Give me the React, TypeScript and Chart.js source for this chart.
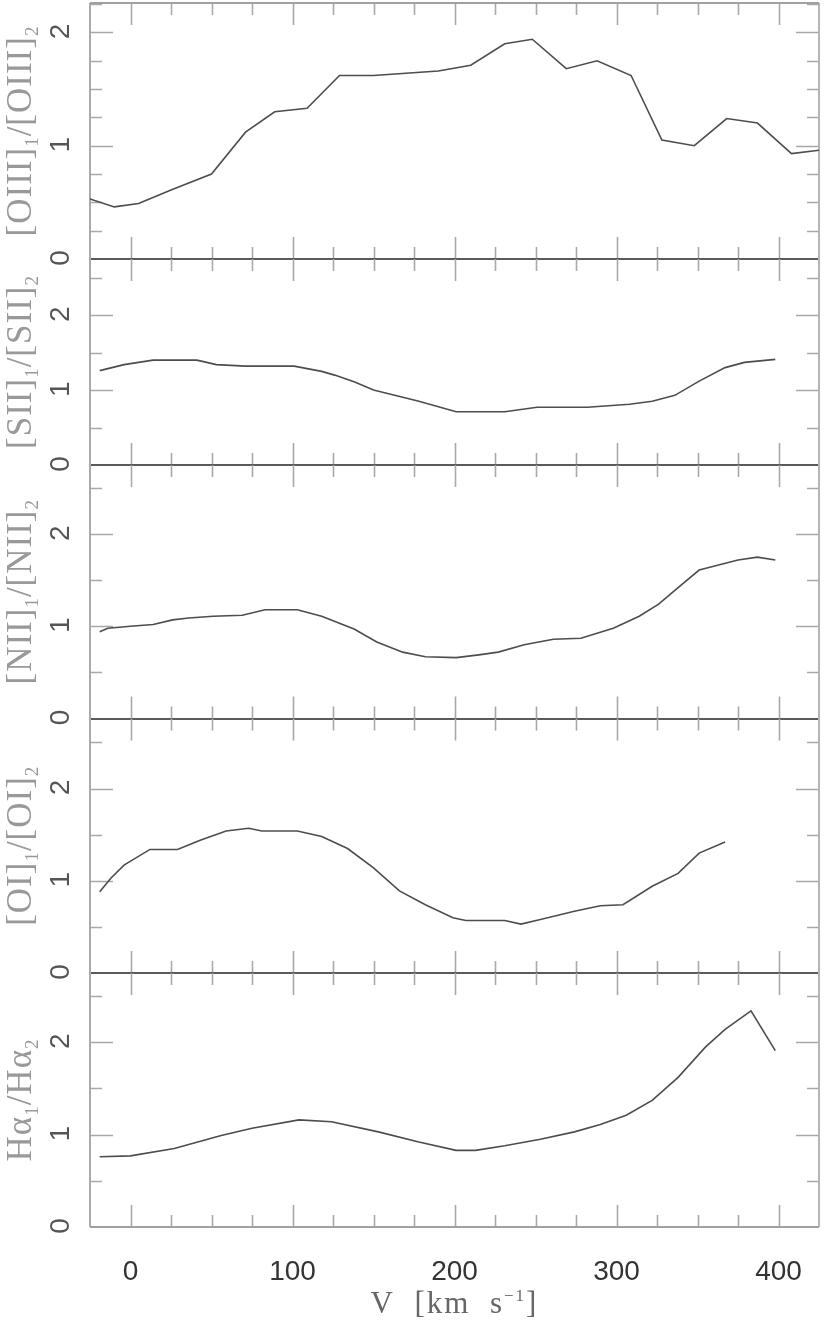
import React, { useEffect, useRef } from 'react';
import { Chart, registerables } from 'chart.js';

Chart.register(...registerables);

// ---- data (velocity in km/s, line ratios) ----
const oiiiV = [-25, -10, 5, 25, 50, 71, 89, 109, 129, 150, 170, 190, 210, 231, 248, 269, 288, 309, 328, 348, 368, 387, 408, 425];
const oiiiR = [0.53, 0.46, 0.49, 0.61, 0.75, 1.12, 1.3, 1.33, 1.62, 1.62, 1.64, 1.66, 1.71, 1.9, 1.94, 1.68, 1.75, 1.62, 1.05, 1.0, 1.24, 1.2, 0.93, 0.96];

const siiV = [-19, -4, 14, 41, 53, 71, 101, 118, 126, 138, 150, 178, 201, 231, 251, 282, 308, 322, 336, 351, 367, 379, 398];
const siiR = [1.26, 1.34, 1.4, 1.4, 1.34, 1.32, 1.32, 1.25, 1.2, 1.11, 1.0, 0.85, 0.71, 0.71, 0.77, 0.77, 0.81, 0.85, 0.93, 1.12, 1.3, 1.37, 1.41];

const niiV = [-19, -14, 0, 14, 26, 36, 51, 69, 83, 103, 118, 138, 152, 168, 182, 201, 215, 227, 243, 261, 278, 298, 314, 326, 338, 351, 375, 387, 398];
const niiR = [0.94, 0.98, 1.0, 1.02, 1.07, 1.09, 1.11, 1.12, 1.18, 1.18, 1.11, 0.97, 0.83, 0.72, 0.67, 0.66, 0.69, 0.72, 0.8, 0.86, 0.87, 0.98, 1.11, 1.24, 1.42, 1.61, 1.72, 1.75, 1.72];

const oiV = [-19, -12, -4, 12, 29, 43, 59, 73, 81, 103, 118, 134, 150, 166, 182, 199, 207, 231, 241, 253, 274, 290, 304, 322, 338, 351, 367];
const oiR = [0.88, 1.03, 1.17, 1.34, 1.34, 1.44, 1.54, 1.57, 1.54, 1.54, 1.48, 1.35, 1.14, 0.89, 0.74, 0.6, 0.57, 0.57, 0.53, 0.58, 0.67, 0.73, 0.74, 0.94, 1.08, 1.3, 1.42];

const haV = [-19, 0, 27, 56, 75, 104, 124, 153, 178, 201, 213, 231, 253, 274, 290, 306, 322, 338, 355, 367, 383, 398];
const haR = [0.76, 0.77, 0.85, 0.99, 1.07, 1.16, 1.14, 1.03, 0.92, 0.83, 0.83, 0.88, 0.95, 1.03, 1.11, 1.21, 1.37, 1.62, 1.95, 2.14, 2.34, 1.91];

// ---- tick labels & titles ----
const xTickValues = [0, 100, 200, 300, 400];
const xTickLabels = ['0', '100', '200', '300', '400'];
const yTickValues = [0, 1, 2];
const yTickLabels = ['0', '1', '2'];

type Run = [string, number]; // 0 normal, 1 subscript, -1 superscript
const oiiiTitle: Run[] = [['[OIII]', 0], ['1', 1], ['/[OIII]', 0], ['2', 1]];
const siiTitle: Run[] = [['[SII]', 0], ['1', 1], ['/[SII]', 0], ['2', 1]];
const niiTitle: Run[] = [['[NII]', 0], ['1', 1], ['/[NII]', 0], ['2', 1]];
const oiTitle: Run[] = [['[OI]', 0], ['1', 1], ['/[OI]', 0], ['2', 1]];
const haTitle: Run[] = [['H\u03b1', 0], ['1', 1], ['/H\u03b1', 0], ['2', 1]];
const xTitle: Run[] = [['V  [km  s', 0], ['\u22121', -1], [']', 0]];

const X_MIN = -25;
const X_MAX = 425;

// top to bottom
const panels = [
  { id: 'y1', max: 2.26, minor: 0.25, weight: 256, v: oiiiV, r: oiiiR, title: oiiiTitle },
  { id: 'y2', max: 2.75, minor: 0.5, weight: 206, v: siiV, r: siiR, title: siiTitle },
  { id: 'y3', max: 2.75, minor: 0.5, weight: 253.5, v: niiV, r: niiR, title: niiTitle },
  { id: 'y4', max: 2.76, minor: 0.5, weight: 254.5, v: oiV, r: oiR, title: oiTitle },
  { id: 'y5', max: 2.75, minor: 0.5, weight: 254, v: haV, r: haR, title: haTitle },
];

const SERIF = '"Liberation Serif", "DejaVu Serif", serif';
const SANS = '"Liberation Sans", Arial, sans-serif';

function drawRuns(ctx: CanvasRenderingContext2D, runs: Run[], size: number, color: string, spacing: number) {
  const small = Math.round(size * 0.55);
  const widths: number[] = [];
  let total = 0;
  ctx.letterSpacing = spacing + 'px';
  runs.forEach(([t, s]) => {
    ctx.font = `${s ? small : size}px ${SERIF}`;
    const w = ctx.measureText(t).width;
    widths.push(w);
    total += w;
  });
  let x = -total / 2;
  ctx.fillStyle = color;
  ctx.textAlign = 'left';
  ctx.textBaseline = 'alphabetic';
  runs.forEach(([t, s], i) => {
    ctx.font = `${s ? small : size}px ${SERIF}`;
    const dy = s === 1 ? size * 0.2 : s === -1 ? -size * 0.38 : 0;
    ctx.fillText(t, x, dy);
    x += widths[i];
  });
  ctx.letterSpacing = '0px';
}

const framePlugin = {
  id: 'pgframe',
  beforeDatasetsDraw(chart: any) {
    const ctx: CanvasRenderingContext2D = chart.ctx;
    const xs = chart.scales.x;
    const { left, right, top, bottom } = chart.chartArea;
    ctx.save();
    panels.forEach((p, i) => {
      const ys = chart.scales[p.id];
      const pt = ys.top;
      const pb = ys.bottom;
      // x ticks (inside, top and bottom of each panel)
      ctx.strokeStyle = '#a8a8a8';
      ctx.lineWidth = 1.6;
      for (let v = X_MIN + 25; v < X_MAX; v += 25) {
        const px = Math.round(xs.getPixelForValue(v)) + 0.5;
        const len = v % 100 === 0 ? 22 : 12;
        ctx.beginPath();
        ctx.moveTo(px, pt);
        ctx.lineTo(px, pt + len);
        ctx.moveTo(px, pb);
        ctx.lineTo(px, pb - len);
        ctx.stroke();
      }
      // y ticks (inside, left and right)
      const nSteps = Math.floor(p.max / p.minor + 1e-6);
      for (let k = 1; k <= nSteps; k++) {
        const v = k * p.minor;
        const py = Math.round(ys.getPixelForValue(v)) + 0.5;
        const major = Math.abs(v - Math.round(v)) < 1e-6;
        const len = major ? 23 : 12;
        ctx.beginPath();
        ctx.moveTo(left, py);
        ctx.lineTo(left + len, py);
        ctx.moveTo(right, py);
        ctx.lineTo(right - len, py);
        ctx.stroke();
      }
      // y tick labels, rotated
      yTickValues.forEach((v, k) => {
        const py = ys.getPixelForValue(v);
        ctx.save();
        ctx.translate(left - 29, py - 1);
        ctx.rotate(-Math.PI / 2);
        ctx.font = `28px ${SANS}`;
        ctx.fillStyle = '#555';
        ctx.textAlign = 'center';
        ctx.textBaseline = 'middle';
        ctx.fillText(yTickLabels[k], 0, 0);
        ctx.restore();
      });
      // panel title, rotated
      ctx.save();
      ctx.translate(31, (pt + pb) / 2);
      ctx.rotate(-Math.PI / 2);
      drawRuns(ctx, p.title, 35, '#999', 1);
      ctx.restore();
      // panel bottom line (zero line)
      if (i < panels.length - 1) {
        ctx.strokeStyle = '#5a5a5a';
        ctx.lineWidth = 2;
        ctx.beginPath();
        ctx.moveTo(left, Math.round(pb));
        ctx.lineTo(right, Math.round(pb));
        ctx.stroke();
      }
    });
    // outer frame
    ctx.lineWidth = 2;
    ctx.strokeStyle = '#aaa';
    ctx.beginPath();
    ctx.moveTo(left, top);
    ctx.lineTo(left, bottom);
    ctx.stroke();
    ctx.strokeStyle = '#b5b5b5';
    ctx.beginPath();
    ctx.moveTo(right, top);
    ctx.lineTo(right, bottom);
    ctx.stroke();
    ctx.strokeStyle = '#a0a0a0';
    ctx.beginPath();
    ctx.moveTo(left, top);
    ctx.lineTo(right, top);
    ctx.moveTo(left, bottom);
    ctx.lineTo(right, bottom);
    ctx.stroke();
    // x title
    ctx.save();
    ctx.translate((left + right) / 2, bottom + 86);
    drawRuns(ctx, xTitle, 31, '#666', 2);
    ctx.restore();
    ctx.restore();
  },
};

export default function App() {
  const ref = useRef<HTMLCanvasElement | null>(null);
  useEffect(() => {
    document.body.style.margin = '0';
    if (!ref.current) return;
    const scales: any = {
      x: {
        type: 'linear',
        position: 'bottom',
        min: X_MIN,
        max: X_MAX,
        grid: { display: false, drawTicks: false },
        border: { display: false },
        afterBuildTicks: (s: any) => {
          s.ticks = xTickValues.map((v) => ({ value: v }));
        },
        ticks: {
          callback: (v: number) => xTickLabels[xTickValues.indexOf(v)] ?? '',
          font: { family: SANS, size: 28 },
          color: '#333',
          padding: 28,
          maxRotation: 0,
          minRotation: 0,
        },
        afterFit: (s: any) => {
          s.height = 107;
        },
      },
    };
    // Chart.js stacks left axes bottom-up in definition order, so add them reversed
    [...panels].reverse().forEach((p) => {
      scales[p.id] = {
        type: 'linear',
        position: 'left',
        stack: 'panels',
        stackWeight: p.weight,
        offset: false,
        min: 0,
        max: p.max,
        grid: { display: false, drawTicks: false },
        border: { display: false },
        ticks: { display: false },
        afterFit: (s: any) => {
          s.width = 90;
        },
      };
    });
    const chart = new Chart(ref.current, {
      type: 'line',
      data: {
        datasets: panels.map((p) => ({
          label: p.id,
          yAxisID: p.id,
          data: p.v.map((v, i) => ({ x: v, y: p.r[i] })),
          borderColor: '#4d4d4d',
          borderWidth: 1.6,
          pointRadius: 0,
          tension: 0,
          fill: false,
        })),
      },
      options: {
        responsive: false,
        animation: false,
        events: [],
        layout: { padding: { top: 3, right: 2, left: 0, bottom: 0 } },
        plugins: { legend: { display: false }, tooltip: { enabled: false } },
        scales,
      },
      plugins: [framePlugin],
    });
    return () => chart.destroy();
  }, []);
  return (
    <div style={{ width: 830, height: 1334, background: '#fff' }}>
      <canvas ref={ref} width={830} height={1334} style={{ display: 'block' }} />
    </div>
  );
}
